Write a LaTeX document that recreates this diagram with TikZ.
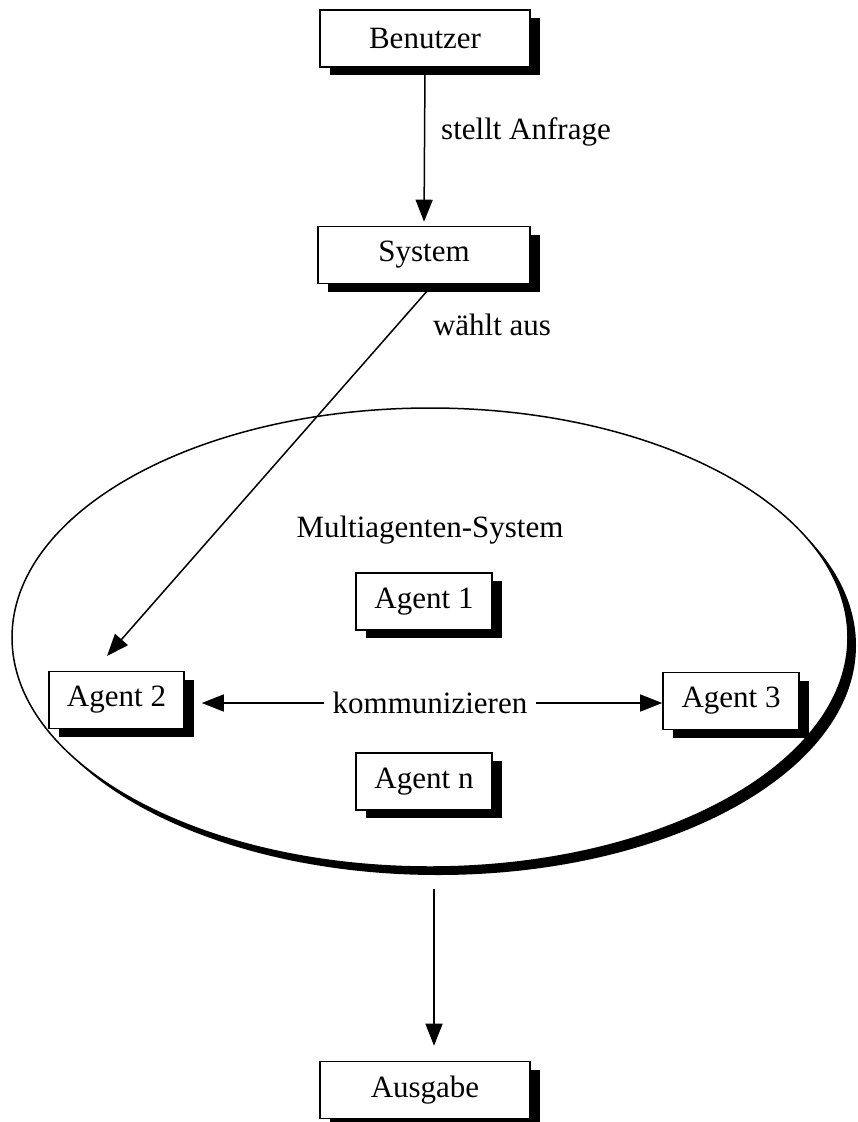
\documentclass[tikz,border=0pt]{standalone}
\usepackage{fontspec}
\setmainfont{Liberation Serif}
\usetikzlibrary{shapes.geometric,shadows,arrows.meta}
\begin{document}
\begin{tikzpicture}[x=1pt,y=-1pt,
  txt/.style={font=\fontsize{31}{37}\selectfont, inner sep=0pt},
  boxshadow/.style={drop shadow={shadow xshift=10pt,shadow yshift=-8pt,fill=black,opacity=1}},
  agentbox/.style={txt, draw, line width=1.6pt, fill=white, minimum height=57pt, boxshadow},
  arr/.style={line width=1.5pt, -{Triangle[length=22pt,width=17pt]}},
  link/.style={line width=1.5pt}]
\useasboundingbox (0,0) rectangle (857,1122);

% multi-agent area
\node[ellipse, draw, line width=1.5pt, fill=white, minimum width=836pt, minimum height=459pt, inner sep=0pt,
      drop shadow={shadow xshift=8pt,shadow yshift=-8pt,fill=black,opacity=1}] (mas) at (430,637.5) {};
\node[txt] (maslabel) at (430,530) {Multiagenten-System};

% boxes
\node[agentbox, minimum width=210pt] (benutzer) at (425,38.5) {Benutzer};
\node[agentbox, minimum width=212pt] (system) at (424,255) {System};
\node[agentbox, minimum width=136pt] (agent1) at (424,601.5) {Agent 1};
\node[agentbox, minimum width=135pt] (agent2) at (116.5,700) {Agent 2};
\node[agentbox, minimum width=136pt] (agent3) at (731,701) {Agent 3};
\node[agentbox, minimum width=136pt] (agentn) at (424,781.5) {Agent n};
\node[agentbox, minimum width=210pt] (ausgabe) at (425,1090) {Ausgabe};

% labels
\node[txt, anchor=west] (anfrage) at (441,132) {stellt Anfrage};
\node[txt] (waehlt) at (492,325) {wählt aus};
\node[txt, inner xsep=9pt] (komm) at (430,703) {kommunizieren};

% connectors
\coordinate (selecttip) at (107,656);
\coordinate (outstart) at (434,889);
\draw[arr, shorten >=4pt] (benutzer.south) -- (system.north);
\draw[arr] ([xshift=9pt]system.south) -- (selecttip);
\draw[arr, shorten >=17pt] (komm.west) -- (agent2.east |- komm.west);
\draw[arr] (komm.east) -- (agent3.west |- komm.east);
\draw[arr, shorten >=15pt] (outstart) -- (outstart |- ausgabe.north);
\end{tikzpicture}
\end{document}
